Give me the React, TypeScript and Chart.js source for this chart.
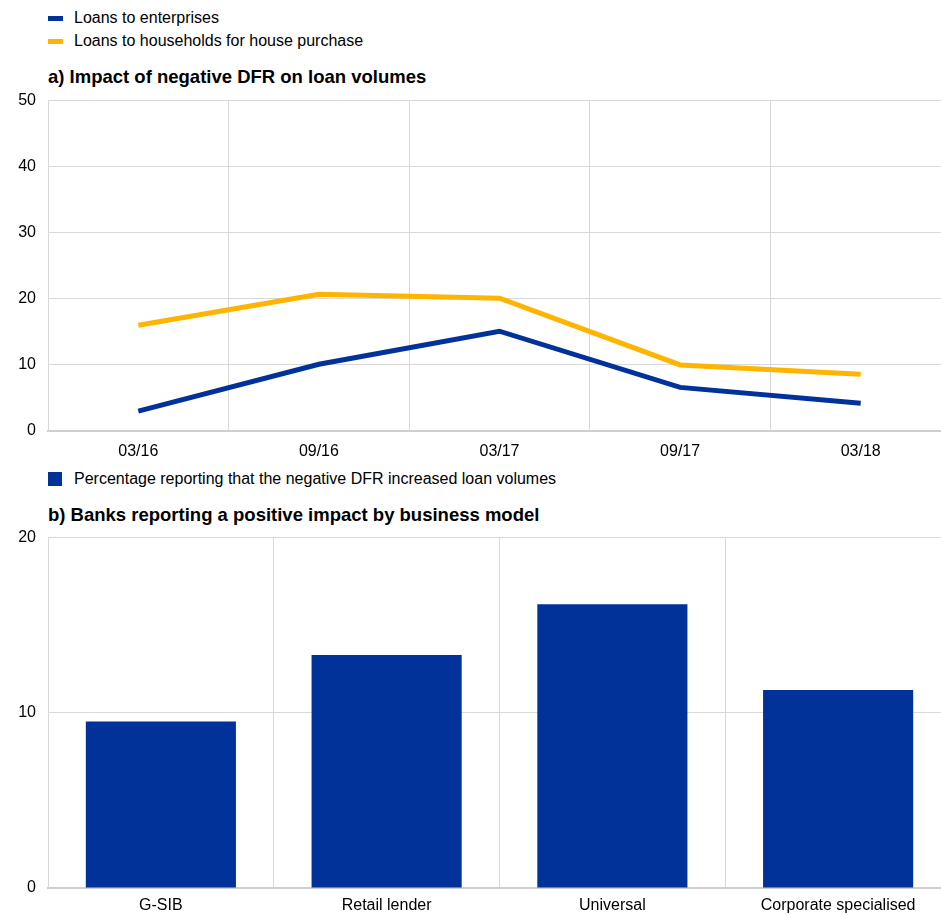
import { useEffect, useRef } from "react"
import { Chart, registerables } from "chart.js"

Chart.register(...registerables)

// Panel a: survey dates and shares (%)
const periods = ["03/16", "09/16", "03/17", "09/17", "03/18"]
const enterprises = [3.0, 10.1, 15.1, 6.6, 4.2]
const households = [16.0, 20.7, 20.1, 10.0, 8.6]

// Panel b: business models
const models = ["G-SIB", "Retail lender", "Universal", "Corporate specialised"]
const positiveShare = [9.5, 13.3, 16.2, 11.3]

const BLUE = "#003299"
const YELLOW = "#ffb400"
const GRID = "#d9d9d9"
const FONT = "'Liberation Sans', Arial, sans-serif"

const tickFont = { family: FONT, size: 16 }

// plot area runs a little past the right edge of the picture, as in the original
const CANVAS_W = 951

function baseScales(yMax: number, xHeight: number, xPad: number) {
  return {
    x: {
      offset: true,
      grid: { display: true, offset: true, color: GRID, drawTicks: false },
      border: { display: true, color: "#cfcfcf", width: 2 },
      ticks: { color: "#000", font: tickFont, padding: xPad, maxRotation: 0, autoSkip: false },
      afterFit: (s: any) => {
        s.height = xHeight
      },
    },
    y: {
      min: 0,
      max: yMax,
      ticks: { stepSize: 10, color: "#000", font: tickFont, padding: 12 },
      grid: { color: GRID, drawTicks: false },
      border: { display: true, color: GRID },
      afterFit: (s: any) => {
        s.width = 48
      },
    },
  }
}

function LineChart() {
  const ref = useRef<HTMLCanvasElement>(null)
  useEffect(() => {
    if (!ref.current) return
    const chart = new Chart(ref.current, {
      type: "line",
      data: {
        labels: periods,
        datasets: [
          {
            label: "Loans to enterprises",
            data: enterprises,
            borderColor: BLUE,
            backgroundColor: BLUE,
            borderWidth: 5,
            pointRadius: 0,
            tension: 0,
          },
          {
            label: "Loans to households for house purchase",
            data: households,
            borderColor: YELLOW,
            backgroundColor: YELLOW,
            borderWidth: 5,
            pointRadius: 0,
            tension: 0,
          },
        ],
      },
      options: {
        animation: false,
        responsive: false,
        layout: { padding: { top: 10, right: 0, left: 0, bottom: 0 } },
        plugins: { legend: { display: false }, tooltip: { enabled: false } },
        scales: baseScales(50, 35, 11) as any,
      },
    })
    return () => chart.destroy()
  }, [])
  return <canvas ref={ref} width={CANVAS_W} height={387} style={{ position: "absolute", left: 0, top: 79 }} />
}

function BarChart() {
  const ref = useRef<HTMLCanvasElement>(null)
  useEffect(() => {
    if (!ref.current) return
    const chart = new Chart(ref.current, {
      type: "bar",
      data: {
        labels: models,
        datasets: [
          {
            label: "Percentage reporting that the negative DFR increased loan volumes",
            data: positiveShare,
            backgroundColor: BLUE,
            barPercentage: 0.665,
            categoryPercentage: 1,
          },
        ],
      },
      options: {
        animation: false,
        responsive: false,
        layout: { padding: { top: 10, right: 0, left: 0, bottom: 0 } },
        plugins: { legend: { display: false }, tooltip: { enabled: false } },
        scales: baseScales(20, 27, 8) as any,
      },
    })
    return () => chart.destroy()
  }, [])
  return <canvas ref={ref} width={CANVAS_W} height={399} style={{ position: "absolute", left: 0, top: 516 }} />
}

const textStyle = {
  position: "absolute" as const,
  fontFamily: FONT,
  fontSize: 16,
  color: "#000",
  lineHeight: "18px",
  whiteSpace: "nowrap" as const,
}

const titleStyle = {
  ...textStyle,
  fontSize: 18.5,
  fontWeight: "bold" as const,
  lineHeight: "20px",
}

export default function App() {
  return (
    <div
      style={{
        position: "absolute",
        left: 0,
        top: 0,
        width: 941,
        height: 915,
        background: "#fff",
        overflow: "hidden",
      }}
    >
      <div style={{ position: "absolute", left: 48, top: 16, width: 15, height: 5, background: BLUE }} />
      <div style={{ ...textStyle, left: 74, top: 9 }}>Loans to enterprises</div>
      <div style={{ position: "absolute", left: 48, top: 39, width: 15, height: 5, background: YELLOW }} />
      <div style={{ ...textStyle, left: 74, top: 32 }}>Loans to households for house purchase</div>
      <div style={{ ...titleStyle, left: 48, top: 67 }}>a) Impact of negative DFR on loan volumes</div>
      <LineChart />
      <div style={{ position: "absolute", left: 48, top: 472, width: 14, height: 14, background: BLUE }} />
      <div style={{ ...textStyle, left: 74, top: 470 }}>
        Percentage reporting that the negative DFR increased loan volumes
      </div>
      <div style={{ ...titleStyle, left: 48, top: 505 }}>b) Banks reporting a positive impact by business model</div>
      <BarChart />
    </div>
  )
}
